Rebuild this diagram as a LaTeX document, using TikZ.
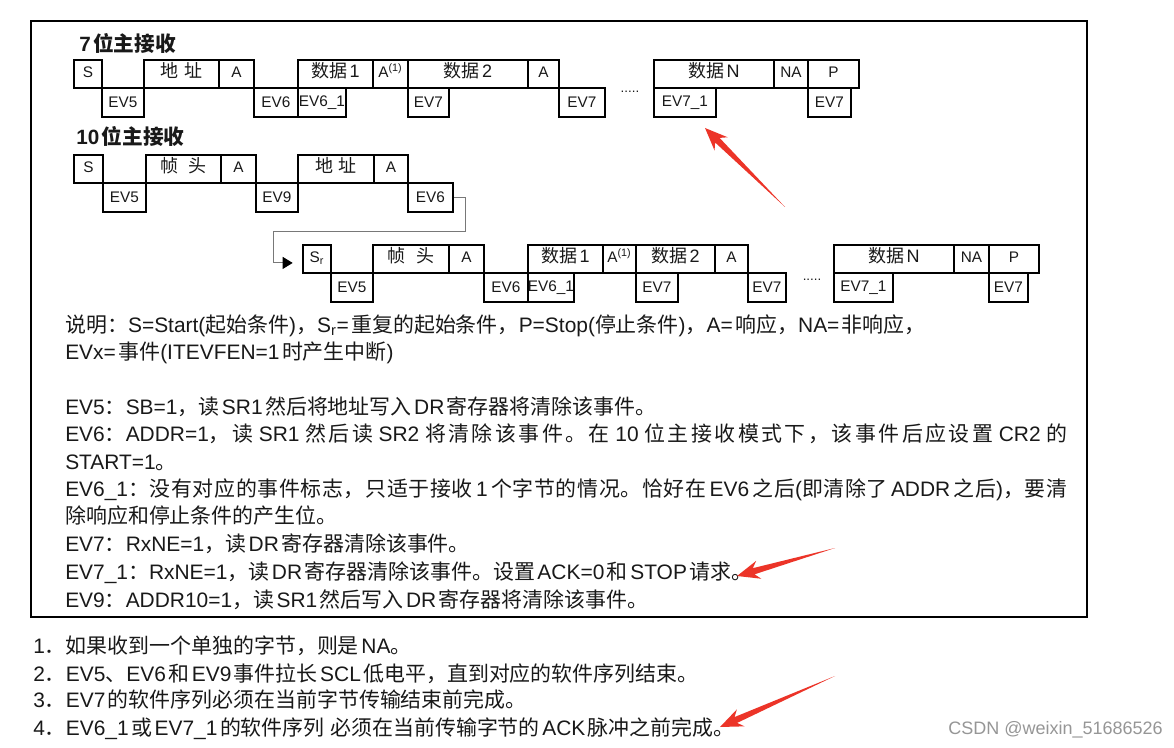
\documentclass[tikz,border=0pt]{standalone}
\usepackage{xcolor}
\usepackage{fontspec}
\setmainfont{Liberation Sans}
\newfontfamily\latfam{Liberation Sans}
\newfontfamily\cjkfam{Noto Sans CJK SC}
\usepackage{tikz}
\usetikzlibrary{arrows.meta, positioning, calc}

% Chinese runs pick their own font
\XeTeXinterchartokenstate=1
\newXeTeXintercharclass\hanclass
\newXeTeXintercharclass\hanpunct
\newXeTeXintercharclass\parenclass
\newcount\hancount
\hancount="4E00
\loop\ifnum\hancount<"A000 \XeTeXcharclass\hancount=\hanclass \advance\hancount by 1 \repeat
\hancount="3000
\loop\ifnum\hancount<"3040 \XeTeXcharclass\hancount=\hanpunct \advance\hancount by 1 \repeat
\hancount="FF00
\loop\ifnum\hancount<"FF60 \XeTeXcharclass\hancount=\hanpunct \advance\hancount by 1 \repeat
\XeTeXcharclass`\(=\parenclass
\XeTeXcharclass`\)=\parenclass
\XeTeXinterchartoks 0 \hanclass = {\hskip .12em plus .1em\relax\cjkfam}
\XeTeXinterchartoks 0 \hanpunct = {\cjkfam}
\XeTeXinterchartoks \parenclass \hanclass = {\cjkfam}
\XeTeXinterchartoks \parenclass \hanpunct = {\cjkfam}
\XeTeXinterchartoks 4095 \hanclass = {\cjkfam}
\XeTeXinterchartoks 4095 \hanpunct = {\cjkfam}
\XeTeXinterchartoks \hanclass 0 = {\latfam\hskip .12em plus .1em\relax}
\XeTeXinterchartoks \hanpunct 0 = {\latfam}
\XeTeXinterchartoks \hanclass \parenclass = {\latfam}
\XeTeXinterchartoks \hanpunct \parenclass = {\latfam}
\XeTeXinterchartoks \hanclass 4095 = {\latfam}
\XeTeXinterchartoks \hanpunct 4095 = {\latfam}
\XeTeXinterchartoks \hanclass \hanclass = {\hskip 0pt plus .08em\relax}
\XeTeXinterchartoks \hanclass \hanpunct = {\hskip 0pt plus .08em\relax}
\XeTeXinterchartoks \hanpunct \hanclass = {\hskip 0pt plus .08em\relax}

\definecolor{inkdark}{RGB}{25,25,25}
\definecolor{linkgray}{RGB}{120,120,120}
\definecolor{markred}{RGB}{236,52,40}
\definecolor{wmgray}{RGB}{150,150,150}
\tikzset{
  hibox/.style={rectangle, draw=black, line width=1.4pt, anchor=north west,
    minimum width=#1*0.75pt, minimum height=28*0.75pt, inner sep=0pt,
    text=inkdark, font=\fontsize{11.5}{13}\selectfont, text height=8pt, text depth=3pt},
  lobox/.style={rectangle, draw=black, line width=1.4pt, anchor=north west,
    minimum width=#1*0.75pt, minimum height=29*0.75pt, inner sep=0pt,
    text=inkdark, font=\fontsize{11.5}{13}\selectfont},
  zh/.style={font=\fontsize{13.5}{15}\selectfont},
  title/.style={anchor=base west, inner sep=0pt, text=inkdark,
    font=\fontsize{15.5}{18}\selectfont\bfseries},
  desc/.style={anchor=base west, inner sep=0pt, text=inkdark,
    font=\fontsize{15.7}{18}\selectfont},
  dots/.style={anchor=base, inner sep=0pt, text=inkdark, font=\fontsize{10}{10}\selectfont},
  link/.style={draw=linkgray, line width=0.7pt,
    -{Triangle[length=7.5pt, width=9pt, color=black, fill=black]}},
  pointer/.style={fill=markred},
  frame/.style={draw=black, line width=1.2pt}
}

\begin{document}
\begin{tikzpicture}[x=0.75pt, y=-0.75pt]
  \fill[white] (0,0) rectangle (1174,748);
  \useasboundingbox (0,0) rectangle (1174,748);
  \draw[frame] (31,21) rectangle (1087,617);

  % 7-bit receive
  \node[title] (t7) at (79,52) {7位主接收};
  \node[hibox=28] (s1) at (73,59) {S};
  \node[hibox=75, zh] (addr1) at (143,59) {地\hspace{4pt}址};
  \node[hibox=35] (ack1) at (218,59) {A};
  \node[hibox=75, zh] (data1a) at (297,59) {数据1};
  \node[hibox=35] (ack1b) at (372,59) {A\textsuperscript{(1)}};
  \node[hibox=120, zh] (data2a) at (407,59) {数据2};
  \node[hibox=31] (ack1c) at (527,59) {A};
  \node[hibox=120, zh] (datana) at (653,59) {数据N};
  \node[hibox=34] (nack1) at (773,59) {NA};
  \node[hibox=51] (stop1) at (807,59) {P};
  \node[lobox=42] (ev5a) at (101,87) {EV5};
  \node[lobox=44] (ev6a) at (253,87) {EV6};
  \node[lobox=48] (ev61a) at (297,87) {EV6\_1};
  \node[lobox=41] (ev7a) at (407,87) {EV7};
  \node[lobox=46] (ev7b) at (558,87) {EV7};
  \node[lobox=62] (ev71a) at (653,87) {EV7\_1};
  \node[lobox=43] (ev7c) at (807,87) {EV7};
  \node[dots] (gap1) at (630,93) {.....};

  % 10-bit receive, header part
  \node[title] (t10) at (76,145) {10位主接收};
  \node[hibox=29] (s2) at (73,154) {S};
  \node[hibox=75, zh] (head2) at (145,154) {帧\hspace{8pt}头};
  \node[hibox=35] (ack2) at (220,154) {A};
  \node[hibox=76, zh] (addr2) at (297,154) {地\hspace{4pt}址};
  \node[hibox=34] (ack2b) at (373,154) {A};
  \node[lobox=43] (ev5b) at (102,182) {EV5};
  \node[lobox=42] (ev9b) at (255,182) {EV9};
  \node[lobox=45] (ev6b) at (407,182) {EV6};

  % 10-bit receive, after repeated start
  \node[hibox=28] (srep) at (302,244) {S\textsubscript{r}};
  \node[hibox=76, zh] (head3) at (372,244) {帧\hspace{8pt}头};
  \node[hibox=35] (ack3) at (448,244) {A};
  \node[hibox=75, zh] (data1c) at (527,244) {数据1};
  \node[hibox=33] (ack3b) at (602,244) {A\textsuperscript{(1)}};
  \node[hibox=79, zh] (data2c) at (635,244) {数据2};
  \node[hibox=33] (ack3c) at (714,244) {A};
  \node[hibox=120, zh] (datanc) at (833,244) {数据N};
  \node[hibox=35] (nack3) at (953,244) {NA};
  \node[hibox=50] (stop3) at (988,244) {P};
  \node[lobox=42] (ev5c) at (330,272) {EV5};
  \node[lobox=44] (ev6c) at (483,272) {EV6};
  \node[lobox=46] (ev61c) at (527,272) {EV6\_1};
  \node[lobox=42] (ev7d) at (635,272) {EV7};
  \node[lobox=38] (ev7e) at (747,272) {EV7};
  \node[lobox=59] (ev71c) at (833,272) {EV7\_1};
  \node[lobox=39] (ev7f) at (988,272) {EV7};
  \node[dots] (gap3) at (812,281) {.....};

  \coordinate (bendA) at (465,231);
  \coordinate (bendB) at (273,231);
  \draw[link, shorten >=7pt] (ev6b.east) -| (bendA) -- (bendB) |- ([yshift=-3pt]srep.west);

  % legend and event list
  \node[desc] (d1) at (65,333) {说明：S=Start(起始条件)，S\textsubscript{r}=重复的起始条件，P=Stop(停止条件)，A=响应，NA=非响应，};
  \node[desc] (d2) at (65,360) {EVx=事件(ITEVFEN=1时产生中断)};
  \node[desc] (d3) at (65,414) {EV5：SB=1，读SR1然后将地址写入DR寄存器将清除该事件。};
  \node[desc] (d4) at (65,441) {\makebox[751.5pt][s]{EV6：ADDR=1，读SR1然后读SR2将清除该事件。在10位主接收模式下，该事件后应设置CR2的}};
  \node[desc] (d5) at (65,469) {START=1。};
  \node[desc] (d6) at (65,496) {\makebox[751.5pt][s]{EV6\_1：没有对应的事件标志，只适于接收1个字节的情况。恰好在EV6之后(即清除了ADDR之后)，要清}};
  \node[desc] (d7) at (65,523) {除响应和停止条件的产生位。};
  \node[desc] (d8) at (65,551) {EV7：RxNE=1，读DR寄存器清除该事件。};
  \node[desc] (d9) at (65,579) {EV7\_1：RxNE=1，读DR寄存器清除该事件。设置ACK=0和STOP请求。};
  \node[desc] (d10) at (65,607) {EV9：ADDR10=1，读SR1然后写入DR寄存器将清除该事件。};

  % notes below the frame
  \node[desc] (n1) at (33,653) {1．如果收到一个单独的字节，则是NA。};
  \node[desc] (n2) at (33,681) {2．EV5、EV6和EV9事件拉长SCL低电平，直到对应的软件序列结束。};
  \node[desc] (n3) at (33,707) {3．EV7的软件序列必须在当前字节传输结束前完成。};
  \node[desc] (n4) at (33,735) {4．EV6\_1或EV7\_1的软件序列 必须在当前传输字节的ACK脉冲之前完成。};
  \node[anchor=base east, inner sep=0pt, text=wmgray, font=\fontsize{13.5}{15}\selectfont]
    (mark) at (1163,734) {CSDN @weixin\_51686526};

  % red pointers
  \coordinate (tail1) at (785,207); \coordinate (tip1) at (705,128);
  \coordinate (tail2) at (835,548); \coordinate (tip2) at (737,576);
  \coordinate (tail3) at (835,676); \coordinate (tip3) at (720,727);
  \foreach \k in {1,2,3} {
    \fill[pointer] (tail\k)
      -- ($(tip\k)!13pt!(tail\k)!2.4pt!90:(tip\k)$)
      -- ($(tip\k)!17pt!(tail\k)!7pt!90:(tip\k)$)
      -- (tip\k)
      -- ($(tip\k)!17pt!(tail\k)!7pt!-90:(tip\k)$)
      -- ($(tip\k)!13pt!(tail\k)!2.4pt!-90:(tip\k)$)
      -- cycle;
  }
\end{tikzpicture}
\end{document}
